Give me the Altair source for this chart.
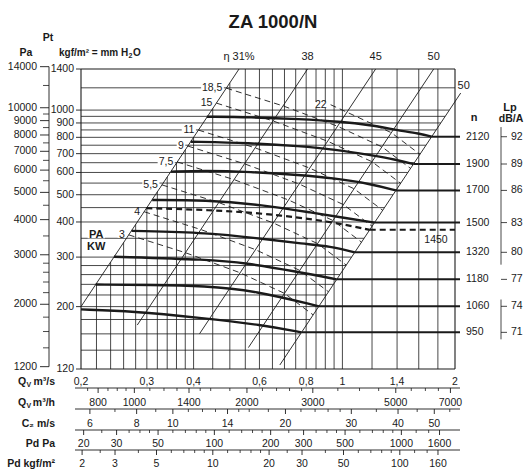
import math
import altair as alt
import pandas as pd

FONT = "Liberation Sans"
INK = "#1a1a1a"

TITLE = "ZA 1000/N"

# ---------------- left pressure axes ----------------
kgf_tick_values = [1400, 1000, 900, 800, 700, 600, 500, 400, 300, 200, 120]
pa_tick_values = [14000, 10000, 9000, 8000, 7000, 6000, 5000, 4000, 3000, 2000, 1200]
pa_minor_values = [12000, 9500, 8500, 7500, 6500, 5500, 4500, 3500, 2800, 2600,
                   2400, 2200, 1800, 1600, 1400]
PA_PER_KGF = 9.81

# ---------------- grid ----------------
grid_P = [1200, 1000, 950, 900, 850, 800, 750, 700, 650, 600, 550, 500, 450, 400,
          350, 300, 280, 260, 240, 220, 200, 180, 160, 140]
grid_Q = [0.22, 0.24, 0.26, 0.28, 0.30, 0.32, 0.34, 0.36, 0.38, 0.40, 0.45, 0.50,
          0.55, 0.60, 0.65, 0.70, 0.75, 0.80, 0.85, 0.90, 0.95, 1.0, 1.2, 1.4, 1.6, 1.8]

# ---------------- efficiency lines  (P = c * Q^2) ----------------
eta_names = ["η 31%", "38", "45", "50", "50"]
eta_coef = [5000, 2150, 930, 455, 268]
eta_P_low = [200, 172, 160, 143, 124]
eta_P_high = [1400, 1400, 1400, 1400, 1150]

# ---------------- fan curves ----------------
rpm_values = [2120, 1900, 1700, 1500, 1450, 1320, 1180, 1060, 950]
lp_values = [92, 89, 86, 83, None, 80, 77, 74, 71]
curve_Q = [
    [0.434, 0.566, 0.770, 0.986, 1.186, 1.40, 1.61, 1.732],
    [0.393, 0.566, 0.770, 0.956, 1.186, 1.40, 1.549],
    [0.348, 0.429, 0.566, 0.770, 0.956, 1.186, 1.39],
    [0.310, 0.429, 0.613, 0.834, 1.024, 1.219],
    [0.299, 0.429, 0.613, 0.926, 1.183],
    [0.273, 0.4425, 0.584, 0.795, 0.926, 1.079],
    [0.245, 0.4425, 0.549, 0.748, 0.965],
    [0.219, 0.306, 0.429, 0.584, 0.865],
    [0.200, 0.275, 0.416, 0.613, 0.7775],
]
curve_P = [
    [947, 944, 929, 910, 885, 849, 825, 804],
    [772, 764, 745, 724, 692, 665, 643],
    [604, 610, 603, 588, 572, 547, 518],
    [479, 479, 460, 431, 413, 398],
    [448, 442, 430, 402, 375],
    [372, 366, 351, 334, 328, 312],
    [301, 294, 286, 267, 250],
    [239.6, 239, 237, 228, 200.5],
    [195.5, 192.7, 182.6, 172, 162],
]

# ---------------- motor power lines (kW) ----------------
kw_names = ["18,5", "15", "11", "9", "7,5", "5,5", "4", "3", "22"]
kw_Q = [
    [0.4893, 0.6938, 0.9705, 1.2757, 1.5216],
    [0.4602, 0.6525, 0.9128, 1.2000, 1.4313],
    [0.4121, 0.5843, 0.8175, 1.0744, 1.2818],
    [0.3860, 0.5474, 0.7659, 1.0065, 1.2007],
    [0.3617, 0.5129, 0.7173, 0.9431, 1.1250],
    [0.3292, 0.4668, 0.6530, 0.8584, 1.0240],
    [0.2950, 0.4183, 0.5852, 0.7692, 0.9174],
    [0.2683, 0.3805, 0.5323, 0.6997, 0.8346],
    [0.930, 1.028, 1.3516, 1.612],
]
kw_P = [
    [1197, 1035, 876, 740, 620],
    [1059, 915, 775, 655, 549],
    [849, 734, 622, 525, 440],
    [745, 644, 546, 461, 386],
    [654, 566, 479, 405, 339],
    [542, 469, 397, 335, 281],
    [435, 376, 319, 269, 226],
    [360, 311, 264, 223, 187],
    [1045, 983, 831, 696],
]

# ---------------- bottom scales ----------------
qs_labels = [0.2, 0.3, 0.4, 0.6, 0.8, 1, 1.4, 2]
qh_labels = [800, 1000, 1400, 2000, 3000, 5000, 7000]
qh_minor = [750, 850, 900, 950, 1100, 1200, 1300, 1500, 1600, 1800, 2200, 2400, 2600,
            2800, 3500, 4000, 4500, 5500, 6000, 6500]
c2_labels = [6, 8, 10, 14, 20, 30, 40, 50]
c2_minor = [7, 9, 11, 12, 13, 15, 16, 18, 22, 24, 26, 28, 35, 45, 55]
pd_labels = [20, 30, 50, 100, 200, 300, 500, 1000, 1600]
pd_minor = [25, 35, 40, 45, 60, 70, 80, 90, 120, 140, 160, 180, 250, 350, 400, 450,
            600, 700, 800, 900, 1200, 1400]
pdk_labels = [2, 3, 5, 10, 20, 30, 50, 100, 160]
pdk_minor = [2.5, 4, 6, 7, 8, 9, 12, 14, 16, 18, 25, 40, 60, 70, 80, 90, 120, 140]

OUTLET_K = 28.4      # C2 = K * Q   (1 / outlet area)
HALF_RHO = 0.6       # Pd = 0.6 * C2^2


def q_from_qh(v):
    return v / 3600.0


def q_from_c2(v):
    return v / OUTLET_K


def q_from_pd(v):
    return math.sqrt(v / HALF_RHO) / OUTLET_K


def q_from_pdk(v):
    return q_from_pd(v * PA_PER_KGF)


def comma(v):
    s = ("%g" % v)
    return s.replace(".", ",")


# ---------------- scales ----------------
W, H = 374, 300
XS = alt.Scale(type="log", domain=[0.2, 2], nice=False)
YS = alt.Scale(type="log", domain=[120, 1400], nice=False)


def ex(f):
    return alt.X(f, type="quantitative", scale=XS, axis=None)


def ey(f):
    return alt.Y(f, type="quantitative", scale=YS, axis=None)


ONE = pd.DataFrame({"a": [0]})
layers = []


def label(txt, x, y, size=10.5, bold=True, align="left", dy=0):
    return alt.Chart(ONE).mark_text(text=txt, font=FONT, fontSize=size,
                                    fontWeight="bold" if bold else "normal",
                                    color=INK, align=align, dy=dy).encode(
        x=alt.value(x), y=alt.value(y))


# horizontal grid (left border -> rightmost efficiency line)
hg = pd.DataFrame({"P": grid_P})
hg["Q1"] = 0.2
hg["Q2"] = [min(2.0, math.sqrt(p / eta_coef[-1])) for p in grid_P]
layers.append(alt.Chart(hg).mark_rule(color=INK, strokeWidth=0.8).encode(
    x=ex("Q1"), x2="Q2", y=ey("P")))

# vertical grid (below the 31% line)
vg = pd.DataFrame({"Q": grid_Q})
vg["P1"] = 120
vg["P2"] = [min(1400.0, eta_coef[0] * q * q) for q in grid_Q]
layers.append(alt.Chart(vg).mark_rule(color=INK, strokeWidth=0.8).encode(
    x=ex("Q"), y=ey("P1"), y2="P2"))

# efficiency lines
ed = pd.DataFrame({"name": eta_names, "c": eta_coef, "Plo": eta_P_low, "Phi": eta_P_high})
ed["Qlo"] = [math.sqrt(p / c) for p, c in zip(ed.Plo, ed.c)]
ed["Qhi"] = [math.sqrt(p / c) for p, c in zip(ed.Phi, ed.c)]
layers.append(alt.Chart(ed).mark_rule(color=INK, strokeWidth=0.9).encode(
    x=ex("Qlo"), x2="Qhi", y=ey("Plo"), y2="Phi"))
layers.append(alt.Chart(ed.iloc[:4]).mark_text(font=FONT, fontSize=11, color=INK, dy=-12).encode(
    x=ex("Qhi"), y=ey("Phi"), text="name:N"))
layers.append(alt.Chart(ed.iloc[4:]).mark_text(font=FONT, fontSize=11, color=INK, dy=-7, dx=3).encode(
    x=ex("Qhi"), y=ey("Phi"), text="name:N"))

# power lines
rows = []
for name, qs, ps in zip(kw_names, kw_Q, kw_P):
    for i, (q, p) in enumerate(zip(qs, ps)):
        rows.append({"kw": name, "i": i, "Q": q, "P": p})
kwd = pd.DataFrame(rows)
layers.append(alt.Chart(kwd).mark_line(color=INK, strokeWidth=0.9, strokeDash=[6, 4]).encode(
    x=ex("Q"), y=ey("P"), detail="kw:N", order="i:Q"))

# power labels with white background
lab = []
for name, qs, ps in zip(kw_names, kw_Q, kw_P):
    w = sum(2.9 if ch == "," else 5.6 for ch in name) + 3
    r = 6.0 / w
    lab.append({"kw": name, "Q": qs[0], "P": ps[0],
                "Qbg": qs[0] * 10 ** (-(4 + (w - 3) / 2) / W),
                "shape": "M-1,-%.3fH1V%.3fH-1Z" % (r, r), "size": w * w})
labd = pd.DataFrame(lab)
layers.append(alt.Chart(labd).mark_point(filled=True, color="white", opacity=1, strokeWidth=0).encode(
    x=ex("Qbg"), y=ey("P"), shape=alt.Shape("shape:N", scale=None), size=alt.Size("size:Q", scale=None)))
layers.append(alt.Chart(labd).mark_text(font=FONT, fontSize=10.5, color=INK, align="right", dx=-4).encode(
    x=ex("Q"), y=ey("P"), text="kw:N"))

# PA / KW
pakw = pd.DataFrame({"t": ["PA", "KW"], "Q": [0.2197, 0.2197], "P": [360, 327]})
layers.append(alt.Chart(pakw.iloc[:1]).mark_point(filled=True, color="white", opacity=1, strokeWidth=0,
                                                 shape="M-1,-0.4H1V0.4H-1Z", size=300).encode(
    x=ex("Q"), y=ey("P")))
layers.append(alt.Chart(pakw).mark_text(font=FONT, fontSize=11, fontWeight="bold", color=INK).encode(
    x=ex("Q"), y=ey("P"), text="t:N"))

# fan curves
rows = []
ends = []
for n, lp, qs, ps in zip(rpm_values, lp_values, curve_Q, curve_P):
    for i, (q, p) in enumerate(zip(qs, ps)):
        rows.append({"rpm": n, "i": i, "Q": q, "P": p})
    ends.append({"rpm": n, "lp": lp, "Q": qs[-1], "P": ps[-1], "t": str(n),
                 "lpt": "" if lp is None else str(lp)})
cd = pd.DataFrame(rows)
endd = pd.DataFrame(ends)
solid_end = endd[endd.rpm != 1450]
dash_end = endd[endd.rpm == 1450]

layers.append(alt.Chart(cd[cd.rpm != 1450]).mark_line(color=INK, strokeWidth=2.4, interpolate="basis").encode(
    x=ex("Q"), y=ey("P"), detail="rpm:N", order="i:Q"))
layers.append(alt.Chart(cd[cd.rpm == 1450]).mark_line(color=INK, strokeWidth=2.2, strokeDash=[6, 4],
                                                      interpolate="basis").encode(
    x=ex("Q"), y=ey("P"), order="i:Q"))
layers.append(alt.Chart(solid_end).mark_rule(color=INK, strokeWidth=2.0).encode(
    x=ex("Q"), x2=alt.value(W + 5), y=ey("P")))
de = dash_end.copy()
de["Q2"] = 2.0
layers.append(alt.Chart(de).mark_rule(color=INK, strokeWidth=2.0, strokeDash=[6, 4]).encode(
    x=ex("Q"), x2="Q2", y=ey("P")))
layers.append(alt.Chart(de).mark_text(font=FONT, fontSize=10.5, color=INK, dy=10).encode(
    x=alt.value(355), y=ey("P"), text="t:N"))

# rpm and Lp labels on right
layers.append(alt.Chart(solid_end).mark_text(font=FONT, fontSize=10.5, color=INK, align="left").encode(
    x=alt.value(W + 11), y=ey("P"), text="t:N"))
layers.append(alt.Chart(solid_end).mark_text(font=FONT, fontSize=10.5, color=INK, align="left").encode(
    x=alt.value(W + 56), y=ey("P"), text="lpt:N"))
layers.append(alt.Chart(solid_end).mark_rule(color=INK, strokeWidth=0.8).encode(
    x=alt.value(W + 46), x2=alt.value(W + 52), y=ey("P")))
lpax = pd.DataFrame({"P1": [870, 212], "P2": [282, 153]})
layers.append(alt.Chart(lpax).mark_rule(color=INK, strokeWidth=0.8).encode(
    x=alt.value(W + 46), y=ey("P1"), y2="P2"))
layers.append(label("n", W + 19, 49, size=11, align="center"))
layers.append(label("Lp", W + 55, 39, size=11, align="center"))
layers.append(label("dB/A", W + 56, 50, align="center"))

# plot border
bd = pd.DataFrame({"Q1": [0.2, 2.0, 0.2, 0.2], "Q2": [0.2, 2.0, 2.0, 2.0],
                   "P1": [120, 120, 1400, 120], "P2": [1400, 1400, 1400, 120]})
layers.append(alt.Chart(bd).mark_rule(color=INK, strokeWidth=1.1).encode(
    x=ex("Q1"), x2="Q2", y=ey("P1"), y2="P2"))

# kgf/m2 axis
kd = pd.DataFrame({"P": kgf_tick_values, "t": [str(v) for v in kgf_tick_values]})
layers.append(alt.Chart(kd).mark_rule(color=INK, strokeWidth=0.9).encode(
    x=alt.value(-5), x2=alt.value(0), y=ey("P")))
layers.append(alt.Chart(kd).mark_text(font=FONT, fontSize=10.5, color=INK, align="right").encode(
    x=alt.value(-7), y=ey("P"), text="t:N"))

# Pa axis
pad = pd.DataFrame({"P": [v / PA_PER_KGF for v in pa_tick_values], "t": [str(v) for v in pa_tick_values]})
pmd = pd.DataFrame({"P": [v / PA_PER_KGF for v in pa_minor_values]})
pline = pd.DataFrame({"P1": [max(pa_tick_values) / PA_PER_KGF], "P2": [min(pa_tick_values) / PA_PER_KGF]})
layers.append(alt.Chart(pline).mark_rule(color=INK, strokeWidth=0.9).encode(
    x=alt.value(-32), y=ey("P1"), y2="P2"))
layers.append(alt.Chart(pad).mark_rule(color=INK, strokeWidth=0.9).encode(
    x=alt.value(-41), x2=alt.value(-32), y=ey("P")))
layers.append(alt.Chart(pmd).mark_rule(color=INK, strokeWidth=0.8).encode(
    x=alt.value(-38), x2=alt.value(-32), y=ey("P")))
layers.append(alt.Chart(pad).mark_text(font=FONT, fontSize=10.5, color=INK, align="right").encode(
    x=alt.value(-44), y=ey("P"), text="t:N"))

# headers
layers.append(label("Pt", -33, -31, align="center"))
layers.append(label("Pa", -55, -16, align="center"))
layers.append(label("kgf/m² = mm H", -22, -16, size=10))
layers.append(label("2", 47.5, -16, size=7, dy=3))
layers.append(label("O", 52, -16, size=10))
layers.append(label(TITLE, 192, -47, size=18.5, align="center"))

# bottom scales
Y_QS = 313


def qv_name(unit, y):
    return [label("Q", -63, y), label("V", -54.5, y, size=7, dy=3),
            label(unit, -26, y, align="right")]


scales = [
    ("m³/h", qh_labels, qh_minor, q_from_qh, 319, 334),
    ("C₂ m/s", c2_labels, c2_minor, q_from_c2, 340, 355),
    ("Pd Pa", pd_labels, pd_minor, q_from_pd, 361, 375),
    ("Pd kgf/m²", pdk_labels, pdk_minor, q_from_pdk, 381, 395),
]
qsd = pd.DataFrame({"Q": qs_labels, "t": [comma(v) for v in qs_labels]})
layers.append(alt.Chart(qsd).mark_text(font=FONT, fontSize=10.5, color=INK).encode(
    x=ex("Q"), y=alt.value(Y_QS), text="t:N"))
layers.extend(qv_name("m³/s", Y_QS))
for name, labels, minor, fn, yb, yl in scales:
    ld = pd.DataFrame({"Q": [fn(v) for v in labels], "t": [comma(v) for v in labels]})
    md = pd.DataFrame({"Q": [fn(v) for v in minor]})
    layers.append(alt.Chart(ONE).mark_rule(color=INK, strokeWidth=0.9).encode(
        x=alt.value(-6), x2=alt.value(W + 5), y=alt.value(yb)))
    layers.append(alt.Chart(ld).mark_rule(color=INK, strokeWidth=0.9).encode(
        x=ex("Q"), y=alt.value(yb), y2=alt.value(yb + 5)))
    layers.append(alt.Chart(md).mark_rule(color=INK, strokeWidth=0.8).encode(
        x=ex("Q"), y=alt.value(yb), y2=alt.value(yb + 3)))
    layers.append(alt.Chart(ld).mark_text(font=FONT, fontSize=10.5, color=INK).encode(
        x=ex("Q"), y=alt.value(yl), text="t:N"))
    if name == "m³/h":
        layers.extend(qv_name(name, yl))
    else:
        layers.append(label(name, -26, yl, align="right"))

chart = alt.layer(*layers).properties(
    width=W, height=H,
    padding={"left": 81, "top": 69, "right": 526 - 81 - W, "bottom": 470 - 69 - H},
    autosize=alt.AutoSizeParams(type="none"),
    background="white",
).configure_view(stroke=None)

chart.save("out.html", embed_options={"renderer": "svg", "actions": False})
